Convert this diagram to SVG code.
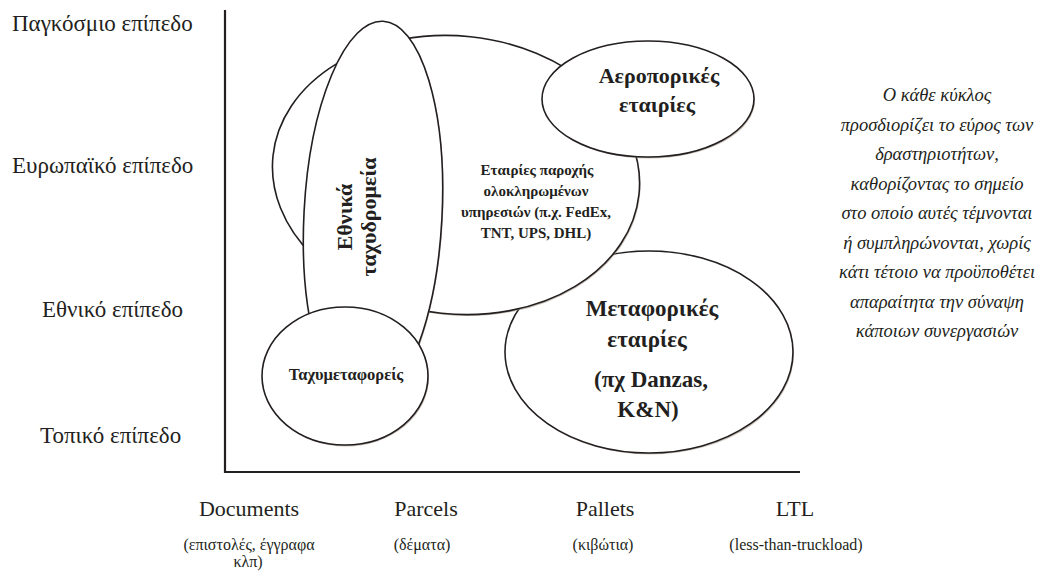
<svg xmlns="http://www.w3.org/2000/svg" width="1051" height="573" viewBox="0 0 1051 573" font-family="serif">
<defs>
<style>
.axis{stroke:#231f20;stroke-width:2.2;fill:none}
.sh{fill:#9c8c7c;opacity:0.55}
.el{fill:#ffffff;stroke:#231f20;stroke-width:1.6}
</style>
</defs>
<rect x="0" y="0" width="1051" height="573" fill="#ffffff"/>

<g id="axes">
<line class="axis" x1="225" y1="10" x2="225" y2="473"/>
<line class="axis" x1="224" y1="472" x2="800" y2="472"/>
</g>

<g id="y-labels" font-family="serif" fill="#231f20" font-size="23">
<text font-family="serif" x="12" y="31">Παγκόσμιο επίπεδο</text>
<text font-family="serif" x="12" y="173">Ευρωπαϊκό επίπεδο</text>
<text font-family="serif" x="42" y="317">Εθνικό επίπεδο</text>
<text font-family="serif" x="40" y="443">Τοπικό επίπεδο</text>
</g>

<g id="x-labels" font-family="serif" fill="#231f20" text-anchor="middle">
<text font-family="serif" font-size="22" x="249" y="516">Documents</text>
<text font-family="serif" font-size="22" x="426" y="516">Parcels</text>
<text font-family="serif" font-size="22" x="605" y="516">Pallets</text>
<text font-family="serif" font-size="22" x="795" y="516">LTL</text>
<text font-family="serif" font-size="16" x="249" y="550">(επιστολές, έγγραφα</text>
<text font-family="serif" font-size="16" x="248" y="567">κλπ)</text>
<text font-family="serif" font-size="16" x="422" y="550">(δέματα)</text>
<text font-family="serif" font-size="16" x="603" y="550">(κιβώτια)</text>
<text font-family="serif" font-size="16" x="796" y="550">(less-than-truckload)</text>
</g>

<g id="node-metaforikes" font-family="serif" fill="#231f20" text-anchor="middle" font-weight="bold" font-size="23">
<ellipse class="sh" cx="650" cy="353.5" rx="144" ry="101"/>
<ellipse class="el" cx="649" cy="352" rx="144" ry="101"/>
<text font-family="serif" x="652" y="316">Μεταφορικές</text>
<text font-family="serif" x="647" y="347">εταιρίες</text>
<text font-family="serif" x="651" y="387">(πχ Danzas,</text>
<text font-family="serif" x="648" y="417">K&amp;N)</text>
</g>

<g id="node-integrators" font-family="serif" fill="#231f20" text-anchor="middle" font-weight="bold" font-size="15">
<ellipse class="sh" cx="457" cy="176.5" rx="184" ry="139" transform="rotate(6 457 176.5)"/>
<ellipse class="el" cx="456" cy="175" rx="184" ry="139" transform="rotate(6 456 175)"/>
<text font-family="serif" x="537" y="175">Εταιρίες παροχής</text>
<text font-family="serif" x="536" y="196">ολοκληρωμένων</text>
<text font-family="serif" x="536" y="217">υπηρεσιών (π.χ. FedEx,</text>
<text font-family="serif" x="536" y="238">TNT, UPS, DHL)</text>
</g>

<g id="node-aeroporikes" font-family="serif" fill="#231f20" text-anchor="middle" font-weight="bold" font-size="22">
<ellipse class="sh" cx="649" cy="100.5" rx="106" ry="58"/>
<ellipse class="el" cx="648" cy="99" rx="106" ry="58"/>
<text font-family="serif" x="659" y="83">Αεροπορικές</text>
<text font-family="serif" x="657" y="112">εταιρίες</text>
</g>

<g id="node-taxydromeia" font-family="serif" fill="#231f20" text-anchor="middle" font-weight="bold" font-size="22">
<ellipse class="sh" cx="374" cy="216.5" rx="69" ry="194" transform="rotate(3 374 216.5)"/>
<ellipse class="el" cx="373" cy="215" rx="69" ry="194" transform="rotate(3 373 215)"/>
<text font-family="serif" transform="translate(352 217) rotate(-90)" x="0" y="0">Εθνικά</text>
<text font-family="serif" transform="translate(376 217) rotate(-90)" x="0" y="0">ταχυδρομεία</text>
</g>

<g id="node-taxymetaforeis" font-family="serif" fill="#231f20" text-anchor="middle" font-weight="bold" font-size="16.5">
<ellipse class="sh" cx="346" cy="377.5" rx="83" ry="69"/>
<ellipse class="el" cx="345" cy="376" rx="83" ry="69"/>
<text font-family="serif" x="346" y="380">Ταχυμεταφορείς</text>
</g>

<g id="connectors"></g>

<g id="note" font-family="serif" fill="#231f20" text-anchor="middle" font-style="italic" font-size="18.5">
<text font-family="serif" x="937" y="101">Ο κάθε κύκλος</text>
<text font-family="serif" x="937" y="131">προσδιορίζει το εύρος των</text>
<text font-family="serif" x="937" y="160">δραστηριοτήτων,</text>
<text font-family="serif" x="937" y="190">καθορίζοντας το σημείο</text>
<text font-family="serif" x="937" y="219">στο οποίο αυτές τέμνονται</text>
<text font-family="serif" x="937" y="249">ή συμπληρώνονται, χωρίς</text>
<text font-family="serif" x="937" y="278">κάτι τέτοιο να  προϋποθέτει</text>
<text font-family="serif" x="937" y="308">απαραίτητα  την σύναψη</text>
<text font-family="serif" x="937" y="337">κάποιων συνεργασιών</text>
</g>
</svg>
